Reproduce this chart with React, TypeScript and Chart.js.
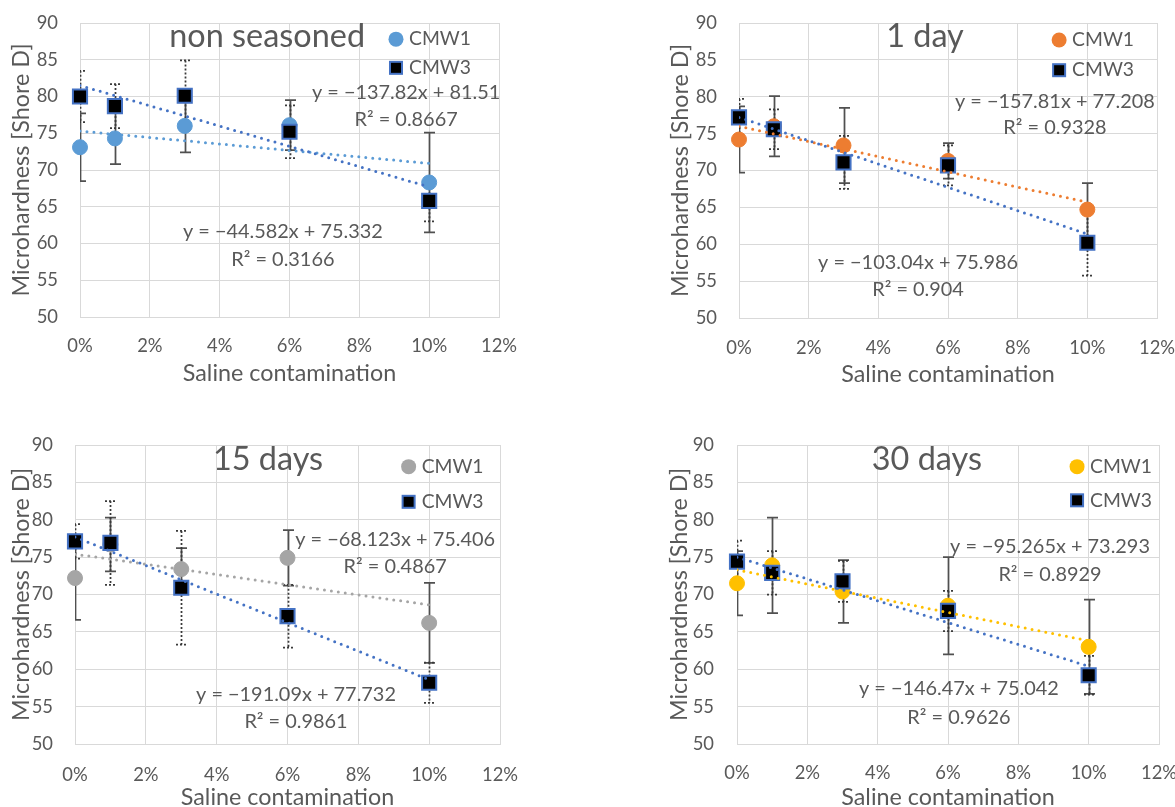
import React, { useEffect, useRef } from "react";
import { Chart, registerables } from "chart.js";

Chart.register(...registerables);

// ---------------- data ----------------
const xValues = [0, 0.01, 0.03, 0.06, 0.1];
const xTickValues = [0, 0.02, 0.04, 0.06, 0.08, 0.1, 0.12];
const xTickLabels = ["0%", "2%", "4%", "6%", "8%", "10%", "12%"];
const yTickValues = [50, 55, 60, 65, 70, 75, 80, 85, 90];
const yTickLabels = ["50", "55", "60", "65", "70", "75", "80", "85", "90"];
const seriesNames = ["CMW1", "CMW3"];
const panelTitles = ["non seasoned", "1 day", "15 days", "30 days"];
const xAxisTitle = "Saline contamination";
const yAxisTitle = "Microhardness [Shore D]";

// non seasoned
const nsCmw1 = [73.1, 74.3, 76.0, 76.1, 68.3];
const nsCmw1Err = [4.6, 3.5, 3.6, 3.4, 6.8];
const nsCmw3 = [80.0, 78.7, 80.1, 75.2, 65.8];
const nsCmw3Err = [3.5, 3.0, 4.8, 3.6, 2.8];
const nsTrend1 = [75.3, 70.9];
const nsTrend3 = [81.5, 67.7];
const nsEq1 = ["y = −44.582x + 75.332", "R² = 0.3166"];
const nsEq3 = ["y = −137.82x + 81.51", "R² = 0.8667"];

// 1 day
const d1Cmw1 = [74.2, 76.0, 73.4, 71.3, 64.7];
const d1Cmw1Err = [4.5, 4.1, 5.1, 2.4, 3.6];
const d1Cmw3 = [77.2, 75.6, 71.1, 70.7, 60.2];
const d1Cmw3Err = [2.5, 2.7, 3.6, 2.7, 4.45];
const d1Trend1 = [76.0, 65.7];
const d1Trend3 = [77.2, 61.4];
const d1Eq1 = ["y = −103.04x + 75.986", "R² = 0.904"];
const d1Eq3 = ["y = −157.81x + 77.208", "R² = 0.9328"];

// 15 days
const d15Cmw1 = [72.2, 76.7, 73.4, 74.9, 66.2];
const d15Cmw1Err = [5.6, 3.6, 2.8, 3.7, 5.35];
const d15Cmw3 = [77.1, 76.9, 70.9, 67.1, 58.2];
const d15Cmw3Err = [2.3, 5.6, 7.6, 4.2, 2.7];
const d15Trend1 = [75.4, 68.6];
const d15Trend3 = [77.7, 58.6];
const d15Eq1 = ["y = −68.123x + 75.406", "R² = 0.4867"];
const d15Eq3 = ["y = −191.09x + 77.732", "R² = 0.9861"];

// 30 days
const d30Cmw1 = [71.5, 73.9, 70.4, 68.5, 63.0];
const d30Cmw1Err = [4.3, 6.4, 4.2, 6.5, 6.3];
const d30Cmw3 = [74.4, 72.9, 71.75, 67.8, 59.2];
const d30Cmw3Err = [2.8, 2.9, 2.75, 2.7, 2.6];
const d30Trend1 = [73.3, 63.8];
const d30Trend3 = [75.0, 60.4];
const d30Eq1 = ["y = −95.265x + 73.293", "R² = 0.8929"];
const d30Eq3 = ["y = −146.47x + 75.042", "R² = 0.9626"];

// ---------------- styles ----------------
const FAMILY = '"Lato", "Open Sans", sans-serif';
const TEXT = "#595959";
const GRID = "#D9D9D9";
const CMW3_FILL = "#000000";
const CMW3_EDGE = "#4472C4";
const ERR_SOLID = "#505050";
const ERR_DOT = "#3A3A3A";
const panelColors = ["#5B9BD5", "#ED7D31", "#A5A5A5", "#FFC000"];

interface PanelData {
  title: string;
  color1: string;
  cmw1: number[];
  cmw1Err: number[];
  cmw3: number[];
  cmw3Err: number[];
  trend1: number[];
  trend3: number[];
  eqUpper: string[];
  eqLower: string[];
}

const panels: PanelData[] = [
  { title: panelTitles[0], color1: panelColors[0], cmw1: nsCmw1, cmw1Err: nsCmw1Err, cmw3: nsCmw3, cmw3Err: nsCmw3Err, trend1: nsTrend1, trend3: nsTrend3, eqUpper: nsEq3, eqLower: nsEq1 },
  { title: panelTitles[1], color1: panelColors[1], cmw1: d1Cmw1, cmw1Err: d1Cmw1Err, cmw3: d1Cmw3, cmw3Err: d1Cmw3Err, trend1: d1Trend1, trend3: d1Trend3, eqUpper: d1Eq3, eqLower: d1Eq1 },
  { title: panelTitles[2], color1: panelColors[2], cmw1: d15Cmw1, cmw1Err: d15Cmw1Err, cmw3: d15Cmw3, cmw3Err: d15Cmw3Err, trend1: d15Trend1, trend3: d15Trend3, eqUpper: d15Eq1, eqLower: d15Eq3 },
  { title: panelTitles[3], color1: panelColors[3], cmw1: d30Cmw1, cmw1Err: d30Cmw1Err, cmw3: d30Cmw3, cmw3Err: d30Cmw3Err, trend1: d30Trend1, trend3: d30Trend3, eqUpper: d30Eq1, eqLower: d30Eq3 },
];

// layout (pixels are canvas-local; annotation positions are in data units)
const layouts = [
  { left: 0, top: 0, w: 587, h: 403, area: { l: 80, r: 499, t: 23, b: 317 }, xTickY: 346, xTitleY: 373, yTitleX: 21, yTickRight: 58,
    titlePos: [0.0536, 88.1], eqUpperPos: [0.0934, 80.6, 76.8], eqLowerPos: [0.0581, 61.6, 57.8], legendPos: [0.0905, 87.8, 83.9] },
  { left: 587, top: 0, w: 588, h: 403, area: { l: 152, r: 570, t: 23, b: 318 }, xTickY: 348, xTitleY: 374, yTitleX: 93, yTickRight: 130,
    titlePos: [0.0534, 88.1], eqUpperPos: [0.0907, 79.4, 75.8], eqLowerPos: [0.0514, 57.5, 53.8], legendPos: [0.0919, 87.7, 83.6] },
  { left: 0, top: 403, w: 587, h: 404, area: { l: 75, r: 500, t: 42, b: 341 }, xTickY: 372, xTitleY: 394, yTitleX: 21, yTickRight: 53,
    titlePos: [0.0545, 88.0], eqUpperPos: [0.0904, 77.4, 73.7], eqLowerPos: [0.0624, 56.6, 53.0], legendPos: [0.0942, 87.1, 82.4] },
  { left: 587, top: 403, w: 588, h: 404, area: { l: 150, r: 572, t: 42, b: 341 }, xTickY: 370, xTitleY: 394, yTitleX: 92, yTickRight: 127,
    titlePos: [0.054, 88.0], eqUpperPos: [0.089, 76.4, 72.7], eqLowerPos: [0.0631, 57.4, 53.6], legendPos: [0.0967, 87.1, 82.6] },
];

function fitSize(text: string, target: number): number {
  const c = document.createElement("canvas").getContext("2d")!;
  c.font = `100px ${FAMILY}`;
  const w = c.measureText(text).width;
  return Math.round((1000 * target) / w) / 10;
}

function makeChart(canvas: HTMLCanvasElement, p: PanelData, L: any, S: any) {
  const lhTick = S.tick * 1.2;
  const lhTitle = S.axis * 1.2;
  const xH = L.xTitleY - L.area.b + lhTitle / 2;
  const padBottom = L.h - L.area.b - xH;

  const pts = (vals: number[]) => xValues.map((x, i) => ({ x, y: vals[i] }));
  const trend = (vals: number[]) => [
    { x: xValues[0], y: vals[0] },
    { x: xValues[xValues.length - 1], y: vals[1] },
  ];

  const errorBars = {
    id: "errorBars",
    beforeDatasetsDraw(chart: any) {
      const { ctx, chartArea, scales } = chart;
      const xs = scales.x;
      const ys = scales.y;
      const cap = 5.5;
      const series = [
        { v: p.cmw1, e: p.cmw1Err, color: ERR_SOLID, dash: [] as number[], width: 1.75 },
        { v: p.cmw3, e: p.cmw3Err, color: ERR_DOT, dash: [2, 2], width: 1.75 },
      ];
      ctx.save();
      ctx.beginPath();
      ctx.rect(chartArea.left, chartArea.top, chartArea.right - chartArea.left, chartArea.bottom - chartArea.top);
      ctx.clip();
      for (const s of series) {
        ctx.strokeStyle = s.color;
        ctx.lineWidth = s.width;
        ctx.setLineDash(s.dash);
        xValues.forEach((xv, i) => {
          const px = Math.round(xs.getPixelForValue(xv)) + 0.5;
          const pt = ys.getPixelForValue(s.v[i] + s.e[i]);
          const pb = ys.getPixelForValue(s.v[i] - s.e[i]);
          ctx.beginPath();
          ctx.moveTo(px, pt);
          ctx.lineTo(px, pb);
          ctx.moveTo(px - cap, pt);
          ctx.lineTo(px + cap, pt);
          ctx.moveTo(px - cap, pb);
          ctx.lineTo(px + cap, pb);
          ctx.stroke();
        });
      }
      ctx.restore();
    },
  };

  const annotate = {
    id: "annotate",
    afterDatasetsDraw(chart: any) {
      const { ctx, scales } = chart;
      const X = (v: number) => scales.x.getPixelForValue(v);
      const Y = (v: number) => scales.y.getPixelForValue(v);
      ctx.save();
      ctx.fillStyle = TEXT;
      ctx.textAlign = "center";
      ctx.textBaseline = "middle";
      ctx.font = `${S.title}px ${FAMILY}`;
      ctx.fillText(p.title, X(L.titlePos[0]), Y(L.titlePos[1]));
      ctx.font = `${S.eq}px ${FAMILY}`;
      ctx.fillText(p.eqUpper[0], X(L.eqUpperPos[0]), Y(L.eqUpperPos[1]));
      ctx.fillText(p.eqUpper[1], X(L.eqUpperPos[0]), Y(L.eqUpperPos[2]));
      ctx.fillText(p.eqLower[0], X(L.eqLowerPos[0]), Y(L.eqLowerPos[1]));
      ctx.fillText(p.eqLower[1], X(L.eqLowerPos[0]), Y(L.eqLowerPos[2]));
      // legend
      const lx = X(L.legendPos[0]);
      const ly1 = Y(L.legendPos[1]);
      const ly3 = Y(L.legendPos[2]);
      ctx.fillStyle = p.color1;
      ctx.beginPath();
      ctx.arc(lx, ly1, 7.5, 0, Math.PI * 2);
      ctx.fill();
      ctx.fillStyle = CMW3_FILL;
      ctx.fillRect(lx - 6, ly3 - 6, 12, 12);
      ctx.strokeStyle = CMW3_EDGE;
      ctx.lineWidth = 2;
      ctx.strokeRect(lx - 6, ly3 - 6, 12, 12);
      ctx.fillStyle = TEXT;
      ctx.textAlign = "left";
      ctx.font = `${S.legend}px ${FAMILY}`;
      ctx.fillText(seriesNames[0], lx + 13, ly1);
      ctx.fillText(seriesNames[1], lx + 13, ly3);
      ctx.restore();
    },
  };

  return new Chart(canvas, {
    type: "scatter",
    data: {
      datasets: [
        {
          label: "trend " + seriesNames[1],
          data: trend(p.trend3),
          showLine: true,
          borderColor: CMW3_EDGE,
          borderWidth: 3,
          borderDash: [0, 7],
          borderCapStyle: "round",
          pointRadius: 0,
          pointHoverRadius: 0,
          order: 0,
        },
        {
          label: "trend " + seriesNames[0],
          data: trend(p.trend1),
          showLine: true,
          borderColor: p.color1,
          borderWidth: 3,
          borderDash: [0, 7],
          borderCapStyle: "round",
          pointRadius: 0,
          pointHoverRadius: 0,
          order: 0,
        },
        {
          label: seriesNames[1],
          data: pts(p.cmw3),
          pointStyle: "rect",
          pointRadius: 10,
          backgroundColor: CMW3_FILL,
          borderColor: CMW3_EDGE,
          borderWidth: 2,
          order: 1,
          clip: false,
        },
        {
          label: seriesNames[0],
          data: pts(p.cmw1),
          pointStyle: "circle",
          pointRadius: 7.5,
          backgroundColor: p.color1,
          borderColor: p.color1,
          borderWidth: 1,
          order: 2,
          clip: false,
        },
      ] as any,
    },
    options: {
      responsive: false,
      animation: false,
      events: [],
      layout: {
        padding: { left: 0, top: L.area.t, right: L.w - L.area.r, bottom: padBottom },
      },
      plugins: { legend: { display: false }, tooltip: { enabled: false } },
      scales: {
        x: {
          type: "linear",
          min: 0,
          max: 0.12,
          afterBuildTicks: (s: any) => {
            s.ticks = xTickValues.map((v) => ({ value: v }));
          },
          afterFit: (s: any) => {
            s.height = xH;
            s.paddingLeft = 0;
            s.paddingRight = 0;
          },
          ticks: {
            callback: (_v: any, i: number) => xTickLabels[i],
            color: TEXT,
            font: { family: FAMILY, size: S.tick },
            padding: L.xTickY - L.area.b - lhTick / 2,
            maxRotation: 0,
            autoSkip: false,
          },
          grid: { color: GRID, lineWidth: 1, drawTicks: false },
          border: { display: true, color: GRID },
          title: {
            display: true,
            text: xAxisTitle,
            color: TEXT,
            font: { family: FAMILY, size: S.axis },
            padding: { top: 0, bottom: 0 },
          },
        },
        y: {
          type: "linear",
          min: 50,
          max: 90,
          afterBuildTicks: (s: any) => {
            s.ticks = yTickValues.map((v) => ({ value: v }));
          },
          afterFit: (s: any) => {
            s.width = L.area.l;
            s.paddingTop = 0;
            s.paddingBottom = 0;
          },
          ticks: {
            callback: (_v: any, i: number) => yTickLabels[i],
            color: TEXT,
            font: { family: FAMILY, size: S.tick },
            padding: L.area.l - L.yTickRight,
            autoSkip: false,
          },
          grid: { color: GRID, lineWidth: 1, drawTicks: false },
          border: { display: true, color: GRID },
          title: {
            display: true,
            text: yAxisTitle,
            color: TEXT,
            font: { family: FAMILY, size: S.axis },
            padding: { top: L.yTitleX - lhTitle / 2, bottom: 0 },
          },
        },
      },
    } as any,
    plugins: [errorBars, annotate],
  });
}

export default function App() {
  const refs = [
    useRef<HTMLCanvasElement>(null),
    useRef<HTMLCanvasElement>(null),
    useRef<HTMLCanvasElement>(null),
    useRef<HTMLCanvasElement>(null),
  ];
  useEffect(() => {
    const S = {
      tick: fitSize("10%", 36),
      axis: (fitSize(xAxisTitle, 215) + fitSize(yAxisTitle, 252)) / 2,
      eq: fitSize("y = −157.81x + 77.208", 200),
      legend: fitSize("CMW1", 62),
      title: fitSize("non seasoned", 196),
    };
    const charts = panels.map((p, i) => makeChart(refs[i].current!, p, layouts[i], S));
    return () => charts.forEach((c) => c.destroy());
  }, []);
  return (
    <div style={{ position: "absolute", left: 0, top: 0, width: 1175, height: 807, background: "#fff", overflow: "hidden" }}>
      {layouts.map((L, i) => (
        <canvas
          key={i}
          ref={refs[i]}
          width={L.w}
          height={L.h}
          style={{ position: "absolute", left: L.left, top: L.top, width: L.w, height: L.h, display: "block" }}
        />
      ))}
    </div>
  );
}
